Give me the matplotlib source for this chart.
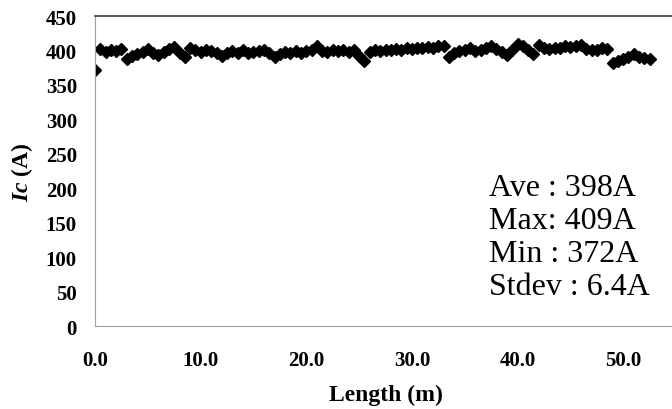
import numpy as np
import matplotlib.pyplot as plt

# Length positions (m) and critical current readings (A)
length_m = np.arange(0, 53.0, 0.5)
ic_values = [
    372, 402, 398, 401, 399, 402, 388, 392, 395, 398,
    402, 396, 393, 398, 402, 405, 396, 390, 403, 400,
    398, 401, 399, 397, 392, 397, 399, 397, 400, 396,
    398, 399, 401, 397, 391, 395, 398, 396, 399, 397,
    399, 400, 406, 399, 398, 401, 399, 400, 398, 401,
    392, 385, 398, 400, 399, 401, 400, 402, 400, 403,
    402, 404, 403, 405, 404, 407, 406, 390, 396, 399,
    401, 403, 399, 401, 404, 406, 402, 398, 393, 400,
    409, 406, 401, 395, 408, 404, 402, 403, 404, 406,
    405, 407, 408, 402, 400, 401, 403, 402, 382, 385,
    388, 390, 395, 391, 389, 387,
]
stats_text = ["Ave : 398A", "Max: 409A", "Min : 372A", "Stdev : 6.4A"]

plt.rcParams['font.family'] = ['Liberation Serif', 'DejaVu Serif']
plt.rcParams['mathtext.fontset'] = 'custom'
plt.rcParams['mathtext.rm'] = 'Liberation Serif'
plt.rcParams['mathtext.bf'] = 'Liberation Serif:bold'
plt.rcParams['mathtext.it'] = 'Liberation Serif:italic'
plt.rcParams['mathtext.bfit'] = 'Liberation Serif:italic:bold'

fig = plt.figure(figsize=(6.72, 4.10), dpi=100)
ax = fig.add_axes([0.1414, 0.2024, 0.8646, 0.756])

ax.plot(length_m, ic_values, linestyle='none', marker='D',
        markersize=6.5, color='black', markeredgecolor='black')

ax.set_xlim(0, 55)
ax.set_ylim(0, 450)
ax.set_xticks(np.arange(0, 51, 10))
ax.set_xticklabels([f"{v:.1f}" for v in np.arange(0, 51, 10)])
ax.set_yticks(np.arange(0, 451, 50))
ax.tick_params(length=0, labelsize=15)
ax.tick_params(axis='x', pad=17)
ax.tick_params(axis='y', pad=13)
for lbl in ax.get_xticklabels() + ax.get_yticklabels():
    lbl.set_fontweight('bold')

ax.spines['right'].set_visible(False)
ax.spines['left'].set_color('#a0a0a0')
ax.spines['bottom'].set_color('#a0a0a0')
ax.spines['top'].set_color('#404040')
ax.spines['top'].set_linewidth(1.2)

ax.set_xlabel("Length (m)", fontsize=17, fontweight='bold', labelpad=10)
ax.set_ylabel(r"$\mathbfit{Ic}$ (A)", fontsize=17, fontweight='bold', labelpad=8)

for i, s in enumerate(stats_text):
    ax.text(0.678, 0.448 - i * 0.1065, s, transform=ax.transAxes,
            fontsize=23, va='center', ha='left')

fig.savefig("out.png", dpi=100)
